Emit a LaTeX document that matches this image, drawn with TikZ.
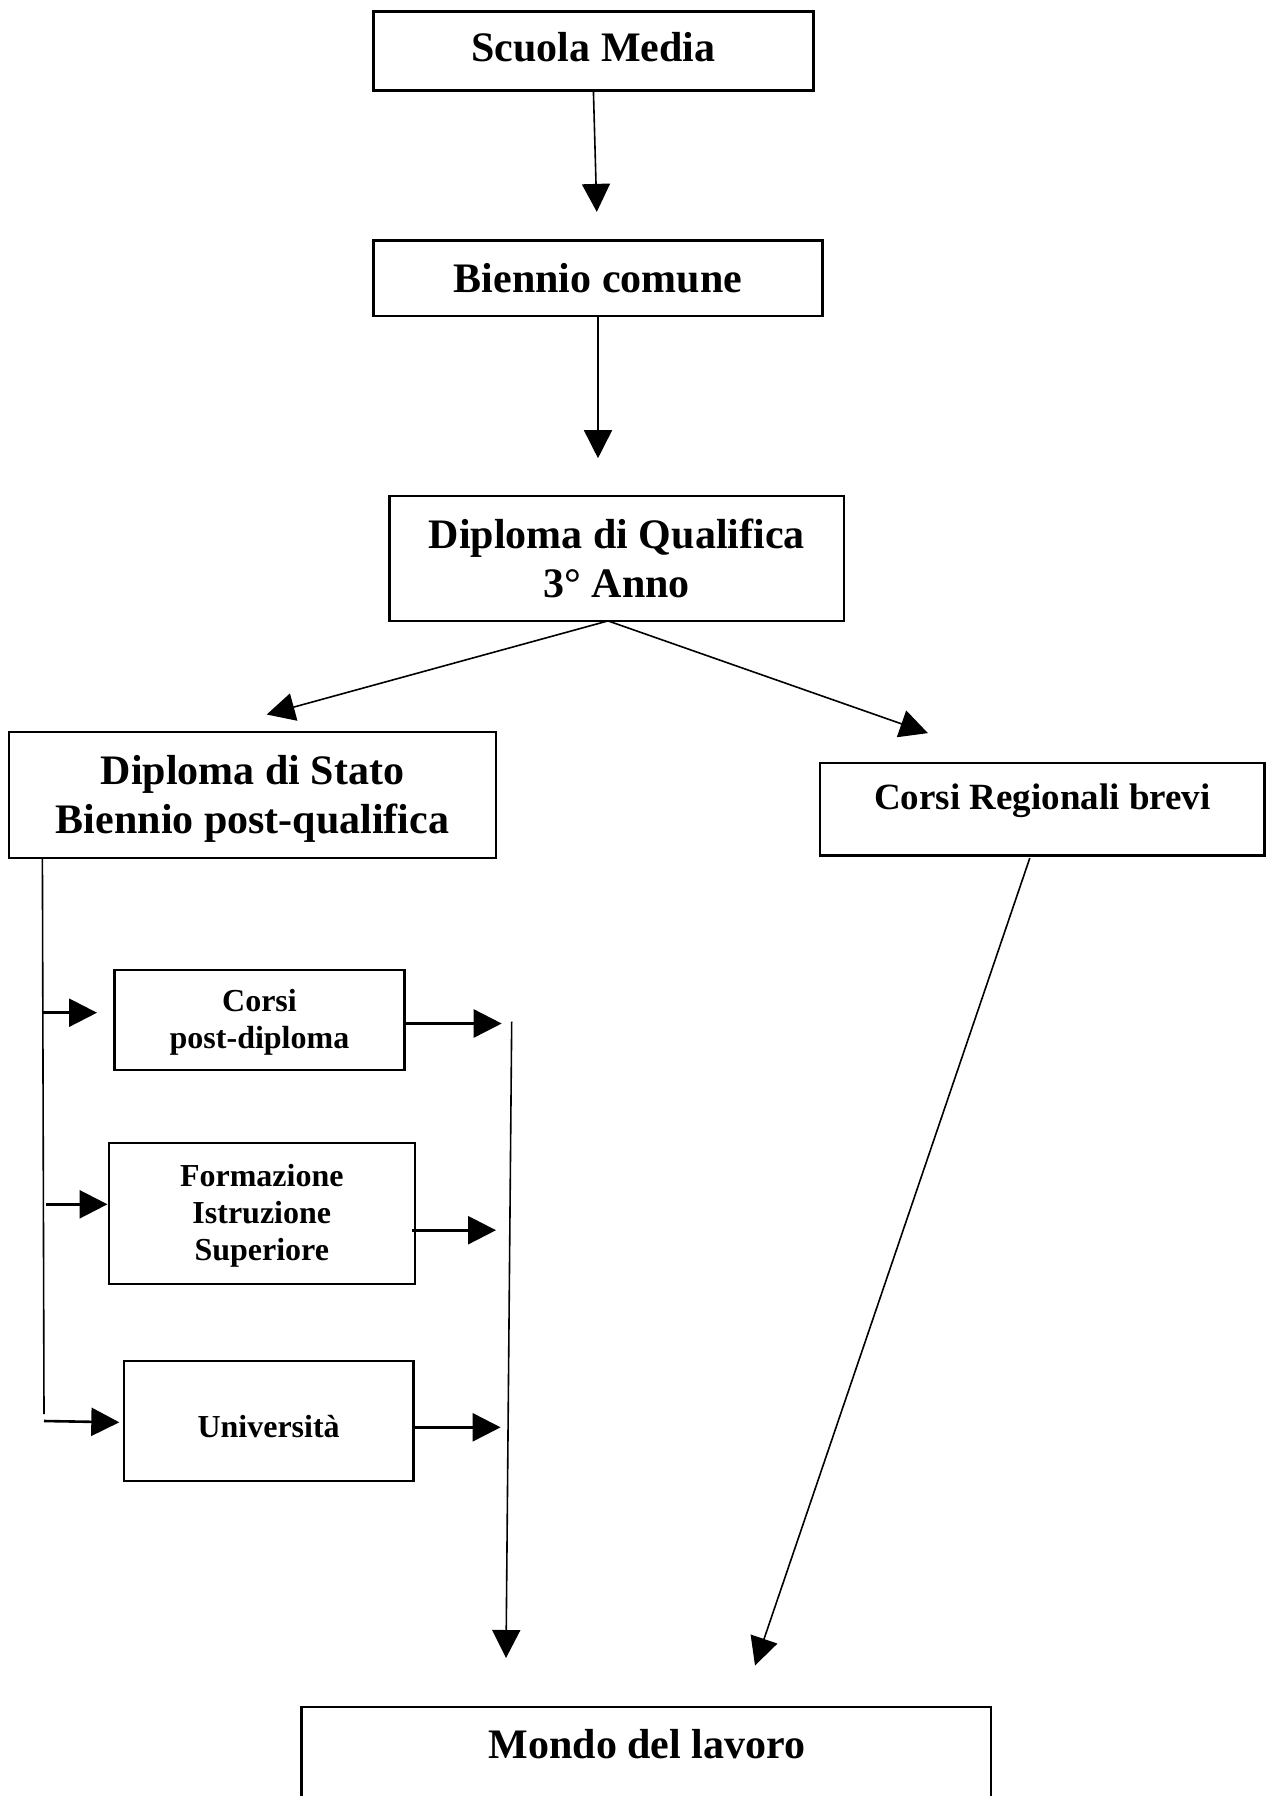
\documentclass[tikz,border=0pt]{standalone}
\usepackage{fontspec}
\setmainfont{Liberation Serif}
\usetikzlibrary{arrows.meta}
\begin{document}
\begin{tikzpicture}[x=1pt,y=-1pt,
  box/.style={draw,line width=2.4pt,inner sep=0pt,outer sep=0pt},
  bigtxt/.style={font=\fontsize{42}{49}\selectfont\bfseries,align=center,inner sep=0pt},
  midtxt/.style={font=\fontsize{37}{44}\selectfont\bfseries,align=center,inner sep=0pt},
  smalltxt/.style={font=\fontsize{32}{37}\selectfont\bfseries,align=center,inner sep=0pt},
  conn/.style={line width=1.6pt,-{Triangle[length=28pt,width=28pt]}},
  thickconn/.style={line width=2.6pt,-{Triangle[length=28pt,width=28pt]}},
  plain/.style={line width=1.6pt}]
\useasboundingbox (0,0) rectangle (1268,1796);
\fill[white] (0,0) rectangle (1268,1796);

% boxes
\node[box,minimum width=440pt,minimum height=79pt] (sm) at (593.4,51) {};
\node[bigtxt] (smt) at (593.4,47.5) {Scuola Media};
\node[box,minimum width=449pt,minimum height=75.6pt] (bc) at (598,278.4) {};
\node[bigtxt] (bct) at (598,278.4) {Biennio comune};
\node[box,minimum width=454.7pt,minimum height=124.9pt] (dq) at (616.8,558.5) {};
\node[bigtxt] (dqt) at (616.8,558.5) {Diploma di Qualifica\\3° Anno};
\node[box,minimum width=486.8pt,minimum height=126pt] (ds) at (252.6,795) {};
\node[bigtxt] (dst) at (252.6,798.5) {Diploma di Stato\\Biennio post-qualifica};
\node[box,minimum width=444.4pt,minimum height=92.7pt] (crb) at (1042.4,809.3) {};
\node[midtxt] (crbt) at (1042.4,801) {Corsi Regionali brevi};
\node[box,minimum width=289.8pt,minimum height=99.7pt] (cpd) at (259.5,1020) {};
\node[smalltxt] (cpdt) at (259.5,1022.5) {Corsi\\post-diploma};
\node[box,minimum width=305.9pt,minimum height=140.9pt] (fis) at (261.8,1213.7) {};
\node[smalltxt] (fist) at (261.8,1215.7) {Formazione\\Istruzione\\Superiore};
\node[box,minimum width=289.8pt,minimum height=120.2pt] (uni) at (268.6,1421) {};
\node[smalltxt] (unit) at (268.6,1427) {Università};
\node[box,minimum width=689.6pt,minimum height=110pt] (ml) at (646.1,1761.8) {};
\node[bigtxt] (mlt) at (647,1744) {Mondo del lavoro};

% coordinates
\coordinate (t1) at (596.8,211.9);
\coordinate (t2) at (598,458.2);
\coordinate (dqo) at (608,620.9);
\coordinate (t3) at (266.7,714.5);
\coordinate (t4) at (927.9,733.1);
\coordinate (crbo) at (1029.8,858);
\coordinate (t5) at (755,1665.5);
\coordinate (lv1) at (42.4,858);
\coordinate (lv2) at (44,1414);
\coordinate (la1) at (42.4,1012.7);
\coordinate (la1t) at (97,1012.7);
\coordinate (la2) at (46,1204.3);
\coordinate (la2t) at (107.5,1204.3);
\coordinate (la3) at (44,1421);
\coordinate (la3t) at (119.3,1422.3);
\coordinate (ra1) at (404.4,1023.5);
\coordinate (ra1t) at (501.7,1023.5);
\coordinate (ra2) at (411.7,1230.2);
\coordinate (ra2t) at (496,1230.2);
\coordinate (ra3) at (411.7,1427.3);
\coordinate (ra3t) at (500.6,1427.3);
\coordinate (rv1) at (511.7,1021.7);
\coordinate (t6) at (506,1658);

% connectors
\draw[conn] (sm.south) -- (t1);
\draw[conn] (bc.south) -- (t2);
\draw[conn] (dqo) -- (t3);
\draw[conn] (dqo) -- (t4);
\draw[conn] (crbo) -- (t5);
\draw[plain] (lv1) -- (lv2);
\draw[thickconn] (la1) -- (la1t);
\draw[thickconn] (la2) -- (la2t);
\draw[thickconn] (la3) -- (la3t);
\draw[thickconn] (ra1) -- (ra1t);
\draw[thickconn] (ra2) -- (ra2t);
\draw[thickconn] (ra3) -- (ra3t);
\draw[conn] (rv1) -- (t6);
\end{tikzpicture}
\end{document}
